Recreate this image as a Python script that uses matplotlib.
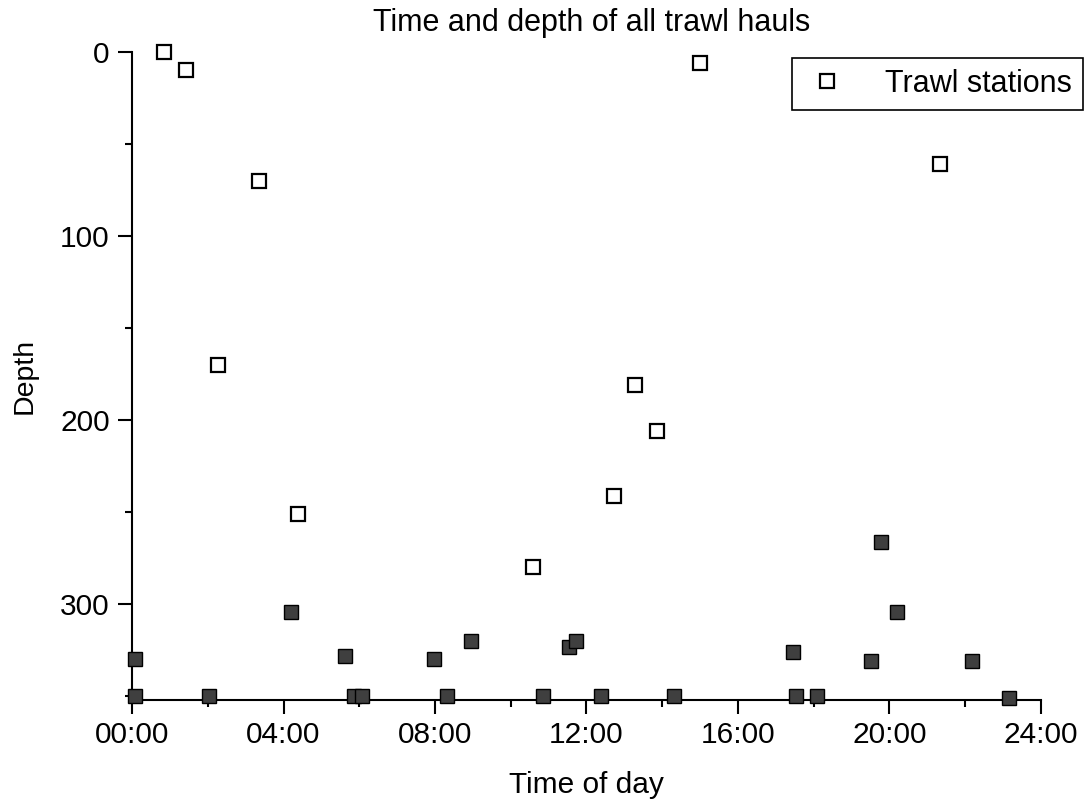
import matplotlib.pyplot as plt
from matplotlib.ticker import MultipleLocator, FuncFormatter

plt.rcParams['font.family'] = ['Liberation Sans', 'DejaVu Sans']

# Trawl stations (open squares): time of day in hours, depth
open_time = [0.84, 1.43, 2.28, 3.34, 4.38, 10.6, 12.73, 13.28, 13.87, 15.0, 21.33]
open_depth = [0, 10, 170, 70, 251, 280, 241, 181, 206, 6, 61]

# Bottom depth at each haul (filled squares)
filled_time = [0.08, 0.08, 2.02, 4.21, 5.61, 5.85, 6.06, 7.98, 8.32, 8.96, 10.86,
               11.53, 11.71, 12.38, 14.3, 17.46, 17.54, 18.09, 19.51, 19.78, 20.2,
               22.18, 23.16]
filled_depth = [330, 350, 350, 304, 328, 350, 350, 330, 350, 320, 350,
                323, 320, 350, 350, 326, 350, 350, 331, 266, 304,
                331, 351]

fig = plt.figure(figsize=(10.85, 8.08), dpi=100)
ax = fig.add_axes([0.1217, 0.1337, 0.8377, 0.8019])

ax.plot(filled_time, filled_depth, 's', ms=9.5, mfc='#3f3f3f', mec='black',
        mew=1.0, clip_on=False, zorder=3)
ax.plot(open_time, open_depth, 's', ms=9.5, mfc='white', mec='black',
        mew=1.6, clip_on=False, zorder=4, label='Trawl stations')

ax.set_xlim(0, 24)
ax.set_ylim(352, 0)

ax.spines['top'].set_visible(False)
ax.spines['right'].set_visible(False)
ax.spines['left'].set_linewidth(1.5)
ax.spines['bottom'].set_linewidth(1.5)

ax.xaxis.set_major_locator(MultipleLocator(4))
ax.xaxis.set_minor_locator(MultipleLocator(2))
ax.xaxis.set_major_formatter(FuncFormatter(lambda v, p: f"{int(v):02d}:00"))
ax.yaxis.set_major_locator(MultipleLocator(100))
ax.yaxis.set_minor_locator(MultipleLocator(50))

ax.tick_params(which='major', length=10, width=1.5, labelsize=21.5, direction='out')
ax.tick_params(which='minor', length=5, width=1.5, direction='out')
ax.tick_params(axis='y', pad=6)
ax.tick_params(axis='x', pad=5)

ax.set_xlabel('Time of day', fontsize=21.5, labelpad=16)
ax.set_ylabel('Depth', fontsize=20.5, labelpad=16)
fig.text(0.545, 0.971, 'Time and depth of all trawl hauls', fontsize=22,
         ha='center', va='center')

leg = ax.legend(loc='upper right', bbox_to_anchor=(0.998, 0.928),
                bbox_transform=fig.transFigure, fontsize=22, frameon=True,
                fancybox=False, edgecolor='black', framealpha=1,
                handletextpad=1.1, borderpad=0.35, handlelength=1.6,
                borderaxespad=0)
leg.get_frame().set_linewidth(1.2)

fig.savefig('out.png', dpi=100)
